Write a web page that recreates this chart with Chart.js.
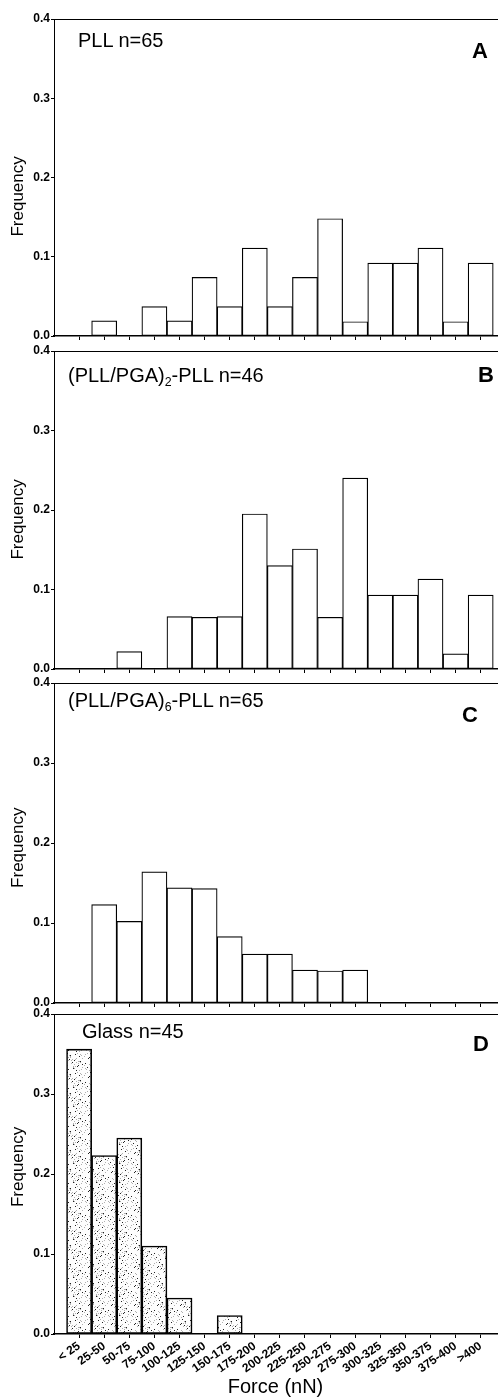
<!DOCTYPE html>
<html>
<head>
<meta charset="utf-8">
<script src="https://cdn.jsdelivr.net/npm/chart.js@4.4.0/dist/chart.umd.min.js"></script>
<style>
html, body { margin: 0; padding: 0; background: #fff; }
#wrap { position: relative; width: 498px; height: 1399px; overflow: hidden; font-family: "Liberation Sans", Arial, sans-serif; }
canvas { position: absolute; left: 0; }
.lab { position: absolute; font-size: 20px; color: #000; white-space: nowrap; line-height: 1; }
.lab sub { font-size: 0.62em; vertical-align: -0.3em; line-height: 0; }
.let { position: absolute; font-size: 22px; font-weight: bold; color: #000; line-height: 1; }
</style>
</head>
<body>
<div id="wrap">
    <canvas id="chartA" width="498" height="339" style="top:7px"></canvas>
    <canvas id="chartB" width="498" height="340" style="top:339px"></canvas>
    <canvas id="chartC" width="498" height="342" style="top:671px"></canvas>
    <canvas id="chartD" width="498" height="397" style="top:1002px"></canvas>

    <div class="lab" style="left:78px;top:30px">PLL n=65</div>
    <div class="let" style="left:472px;top:40px">A</div>
    <div class="lab" style="left:68px;top:365px">(PLL/PGA)<sub>2</sub>-PLL n=46</div>
    <div class="let" style="left:478px;top:364px">B</div>
    <div class="lab" style="left:68px;top:690px">(PLL/PGA)<sub>6</sub>-PLL n=65</div>
    <div class="let" style="left:462px;top:704px">C</div>
    <div class="lab" style="left:82px;top:1021px">Glass n=45</div>
    <div class="let" style="left:473px;top:1033px">D</div>
</div>
<script>
// 力分布直方图 - 4个面板
var forceBins = ['< 25', '25-50', '50-75', '75-100', '100-125', '125-150', '150-175', '175-200',
    '200-225', '225-250', '250-275', '275-300', '300-325', '325-350', '350-375', '375-400', '>400'];
var binIndex = forceBins.map(function(b, i) { return i; });
var yTicks = [0, 0.1, 0.2, 0.3, 0.4];

var freqPLL   = [0, 0.019, 0, 0.037, 0.019, 0.074, 0.037, 0.111, 0.037, 0.074, 0.148, 0.018, 0.092, 0.092, 0.111, 0.018, 0.092];
var freqPGA2  = [0, 0, 0.022, 0, 0.066, 0.065, 0.066, 0.195, 0.130, 0.151, 0.065, 0.240, 0.093, 0.093, 0.113, 0.019, 0.093];
var freqPGA6  = [0, 0.123, 0.102, 0.164, 0.144, 0.143, 0.083, 0.061, 0.061, 0.041, 0.040, 0.041, 0, 0, 0, 0, 0];
var freqGlass = [0.356, 0.223, 0.245, 0.110, 0.045, 0, 0.023, 0, 0, 0, 0, 0, 0, 0, 0, 0, 0];

var FONT = '"Liberation Sans", Arial, sans-serif';

// 玻璃面板的点状填充
function stipple() {
    var c = document.createElement('canvas');
    c.width = 23; c.height = 19;
    var g = c.getContext('2d');
    g.fillStyle = '#fdfdfd';
    g.fillRect(0, 0, c.width, c.height);
    for (var x = 0; x < c.width; x++) {
        for (var y = 0; y < c.height; y++) {
            var h = (x * 31 + y * 17 + x * y * 7) % 23;
            if (h < 1) { g.fillStyle = '#222'; g.fillRect(x, y, 1, 1); }
            else if (h < 3) { g.fillStyle = '#b0b0b0'; g.fillRect(x, y, 1, 1); }
        }
    }
    return g.createPattern(c, 'repeat');
}

function makePanel(id, values, opt) {
    var xMin = -1, xMax = 16.65;
    return new Chart(document.getElementById(id).getContext('2d'), {
        type: 'bar',
        data: {
            labels: binIndex,
            datasets: [{
                data: values,
                backgroundColor: opt.fill || '#ffffff',
                borderColor: '#000',
                borderWidth: opt.bw || 1.2,
                borderSkipped: false,
                barPercentage: 1,
                categoryPercentage: 1
            }]
        },
        options: {
            responsive: false, animation: false,
            layout: { padding: { top: 12, left: 0, right: 1, bottom: opt.last ? 0 : 6 } },
            plugins: { legend: { display: false }, tooltip: { enabled: false } },
            scales: {
                x: {
                    type: 'linear', min: xMin, max: xMax, position: 'bottom', offset: false,
                    afterBuildTicks: function(s) { s.ticks = binIndex.map(function(i) { return { value: i }; }); },
                    afterFit: function(s) { if (opt.last) s.height = 65; },
                    grid: { drawOnChartArea: false, drawTicks: true, tickLength: 4, color: '#000', lineWidth: 1, offset: false },
                    border: { display: true, color: '#000', width: 1.6 },
                    ticks: {
                        display: !!opt.last, autoSkip: false, minRotation: 35, maxRotation: 35, padding: 1,
                        color: '#000', font: { family: FONT, size: 12, weight: 'bold' },
                        callback: function(v) { return forceBins[v]; }
                    },
                    title: {
                        display: !!opt.last, text: 'Force (nN)', color: '#000',
                        font: { family: FONT, size: 20 }, padding: { top: 0, bottom: 0 }
                    }
                },
                xTop: {
                    type: 'linear', min: xMin, max: xMax, position: 'top', axis: 'x', offset: false,
                    grid: { display: false, drawTicks: false },
                    border: { display: true, color: '#000', width: 1 },
                    ticks: { display: false }
                },
                y: {
                    min: 0, max: 0.4,
                    afterBuildTicks: function(s) { s.ticks = yTicks.map(function(v) { return { value: v }; }); },
                    afterFit: function(s) { s.width = 54; },
                    grid: { drawOnChartArea: false, drawTicks: true, tickLength: 3, color: '#000' },
                    border: { display: true, color: '#000', width: 1 },
                    ticks: {
                        color: '#000', padding: 1, font: { family: FONT, size: 12, weight: 'bold' },
                        callback: function(v) { return v.toFixed(1); }
                    },
                    title: {
                        display: true, text: opt.ytitle, color: '#000',
                        font: { family: FONT, size: 17 }, padding: { top: 8, bottom: 0 }
                    }
                }
            }
        }
    });
}

document.addEventListener('DOMContentLoaded', function() {
    makePanel('chartA', freqPLL,  { ytitle: 'Frequency        ' });
    makePanel('chartB', freqPGA2, { ytitle: 'Frequency    ' });
    makePanel('chartC', freqPGA6, { ytitle: 'Frequency  ' });
    makePanel('chartD', freqGlass, { ytitle: '   Frequency', fill: stipple(), bw: 1.6, last: true });
});
</script>
</body>
</html>
